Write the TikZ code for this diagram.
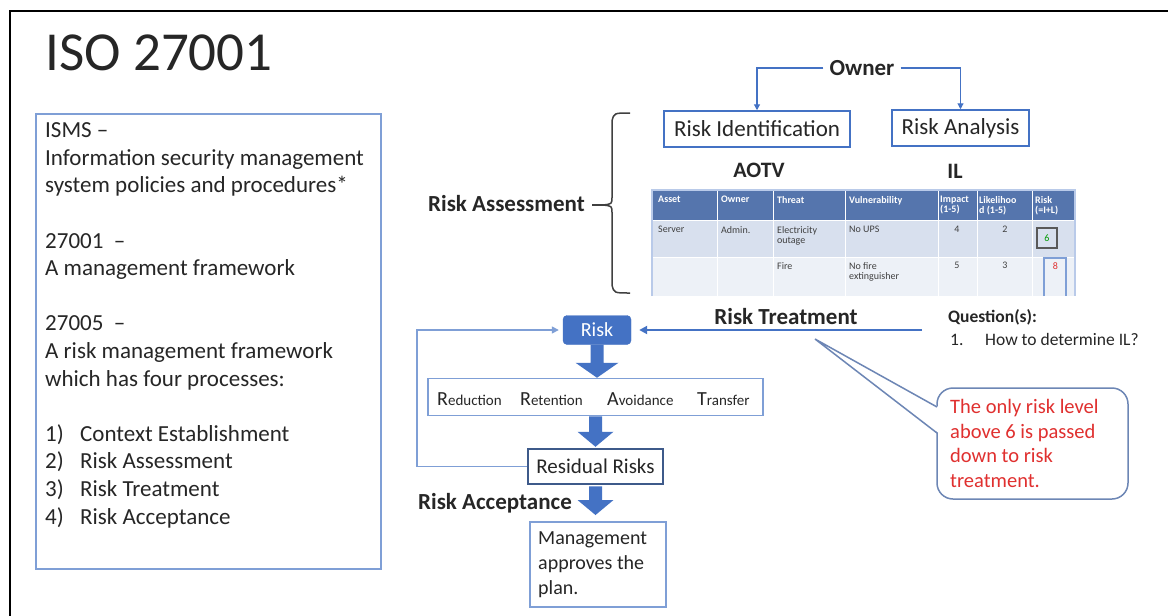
\documentclass[tikz,border=0pt]{standalone}
\usepackage{fontspec}
\setmainfont{Carlito}
\usetikzlibrary{arrows.meta,calc}

\definecolor{ink}{HTML}{262626}
\definecolor{mainblue}{HTML}{4472C4}
\definecolor{paleblue}{HTML}{7F9FD6}
\definecolor{bracegray}{HTML}{404040}
\definecolor{hdrblue}{HTML}{5575AD}
\definecolor{rowa}{HTML}{D8E0EE}
\definecolor{rowb}{HTML}{EDF1F7}
\definecolor{alertred}{HTML}{E0302F}
\definecolor{navy}{HTML}{3E5A8A}
\definecolor{calloutblue}{HTML}{6D86B5}
\definecolor{celltext}{HTML}{404040}

\newcommand{\fsz}[1]{\fontsize{#1}{#1}\selectfont}

% filled downward block arrow between two points
\newcommand{\blockdown}[3]{%
  \fill[mainblue] ($(#1)+(-6.5,0)$) -- ($(#1)+(6.5,0)$) -- ($(#2)+(6.5,-15)$)
    -- ($(#2)+(#3,-15)$) -- (#2) -- ($(#2)+(-#3,-15)$) -- ($(#2)+(-6.5,-15)$) -- cycle;}

\tikzset{
  txt/.style={inner sep=0, text=ink, font=\fsz{23}},
  boldtxt/.style={txt, font=\bfseries\fsz{23}},
  framebox/.style={draw=mainblue, line width=1.5, inner sep=0, text=ink, font=\fsz{23}},
  palebox/.style={draw=paleblue, line width=1.5, inner sep=0},
  thinarrow/.style={mainblue, line width=1.2, -{Triangle[length=6,width=6]}},
  hdr/.style={inner sep=0, text=white, font=\bfseries\fsz{10}, align=left, anchor=north west},
  cell/.style={inner sep=0, text=celltext, font=\fsz{10}, align=left, anchor=north west},
  smalltxt/.style={inner sep=0, text=ink, font=\fsz{17.5}, anchor=base west},
}

\begin{document}
\begin{tikzpicture}[x=1pt, y=-1pt]
\useasboundingbox (0,0) rectangle (1168,616);
\fill[white] (0,0) rectangle (1168,616);

% slide frame
\draw[black, line width=2.2] (10,620) -- (10,11) -- (1172,11);

% title
\node[inner sep=0, anchor=base west, text=ink, font=\fsz{55}] (title) at (45,70) {ISO 27001};

% left summary box
\node[palebox, minimum width=345, minimum height=455, anchor=north west] (summary) at (35,113) {};
\node[inner sep=0, anchor=north west, text=ink, align=left, font=\fontsize{23}{27.6}\selectfont] (summarytext) at (45,122.5) {%
ISMS –\\
Information security management\\
system policies and procedures*\\[27.6pt]
27001\ \ –\\
A management framework\\[27.6pt]
27005\ \ –\\
A risk management framework\\
which has four processes:\\[27.6pt]
\makebox[35pt][l]{1)}Context Establishment\\
\makebox[35pt][l]{2)}Risk Assessment\\
\makebox[35pt][l]{3)}Risk Treatment\\
\makebox[35pt][l]{4)}Risk Acceptance};

% owner and the two assessment steps
\node[boldtxt, inner xsep=6] (owner) at (862,68) {Owner};
\node[framebox, minimum width=186, minimum height=36] (ident) at (757,129) {Risk Identification};
\node[framebox, minimum width=137, minimum height=36] (analysis) at (960.5,128) {Risk Analysis};
\draw[thinarrow] (owner.west) -| (ident.north);
\draw[thinarrow] (owner.east) -| (analysis.north);
\node[txt, font=\bfseries\fsz{22}] (aotv) at (759,170) {AOTV};
\node[txt, font=\bfseries\fsz{22}] (il) at (955,171) {IL};

% risk assessment brace
\node[boldtxt, anchor=east] (assess) at (585,204) {Risk Assessment};
\coordinate (nib) at (603,205);
\draw[bracegray, line width=1.5] (630,113) .. controls (614,113) .. (612,121) -- (612,197)
  .. controls (612,204) .. (nib) .. controls (612,206) .. (612,213) -- (612,285)
  .. controls (614,293) .. (630,293);
\draw[bracegray, line width=1.5] ($(assess.east)+(7,1)$) -- (nib);

% risk register table
\fill[hdrblue] (653,191) rectangle (1074,220);
\fill[rowa] (653,220) rectangle (1074,257);
\fill[rowb] (653,257) rectangle (1074,296);
\foreach \x in {717,773,845,938,977,1032}
  \draw[white, line width=1] (\x,191) -- (\x,296);
\draw[white, line width=1] (653,220) -- (1074,220);
\draw[white, line width=1] (653,257) -- (1074,257);
\draw[paleblue!55, line width=1.5] (652,296) -- (652,190) -- (1075,190) -- (1075,296);

\node[hdr] (h1) at (658,196) {Asset};
\node[hdr] (h2) at (721,196) {Owner};
\node[hdr] (h3) at (777,196) {Threat};
\node[hdr] (h4) at (849,196) {Vulnerability};
\node[hdr] (h5) at (940,196) {Impact\\(1-5)};
\node[hdr] (h6) at (979,196) {Likelihoo\\d (1-5)};
\node[hdr] (h7) at (1035,196) {Risk\\(=I+L)};

\node[cell] (c11) at (658,226) {Server};
\node[cell] (c12) at (721,226) {Admin.};
\node[cell] (c13) at (777,226) {Electricity\\outage};
\node[cell] (c14) at (849,226) {No UPS};
\node[cell, anchor=north] (c15) at (957,226) {4};
\node[cell, anchor=north] (c16) at (1005,226) {2};
\node[draw=gray!70!black, line width=1.2, fill=rowa, minimum width=20, minimum height=20,
      inner sep=0, text=green!60!black, font=\fsz{10}] (r6) at (1047,238) {6};

\node[cell] (c23) at (777,262) {Fire};
\node[cell] (c24) at (849,262) {No fire\\extinguisher};
\node[cell, anchor=north] (c25) at (957,262) {5};
\node[cell, anchor=north] (c26) at (1005,262) {3};
\draw[paleblue, line width=1.2] (1044,296) -- (1044,258) -- (1066,258) -- (1066,296);
\node[cell, anchor=north, text=alertred] (r8) at (1055.5,262) {8};

% risk treatment flow
\node[fill=mainblue, draw=mainblue, rounded corners=4, minimum width=68, minimum height=29,
      inner sep=0, text=white, font=\fsz{20}] (risk) at (597,330) {Risk};
\node[boldtxt] (treat) at (786,317) {Risk Treatment};
\coordinate (treatstart) at (922,330);
\draw[mainblue, line width=2, -{Triangle[length=8,width=8]}, shorten >=8] (treatstart) -- (risk.east);

\node[palebox, minimum width=335, minimum height=37] (options) at (595.5,397) {};
\node[inner sep=0, anchor=base west, text=ink] (opt1) at (437,405) {\fsz{20}R\fsz{15}eduction};
\node[inner sep=0, anchor=base west, text=ink] (opt2) at (520,405) {\fsz{20}R\fsz{15}etention};
\node[inner sep=0, anchor=base west, text=ink] (opt3) at (607,405) {\fsz{20}A\fsz{15}voidance};
\node[inner sep=0, anchor=base west, text=ink] (opt4) at (697,405) {\fsz{20}T\fsz{15}ransfer};

\node[draw=navy, line width=1.5, minimum width=135, minimum height=35, inner sep=0,
      text=ink, font=\fsz{21}] (residual) at (595.5,466.5) {Residual Risks};

\coordinate (loopcorner) at (417,466.5);
\draw[paleblue, line width=1.5, -{Triangle[length=7,width=7]}, shorten >=4]
  (residual.west) -- (loopcorner) |- (risk.west);

\node[boldtxt] (accept) at (495,503) {Risk Acceptance};
\node[palebox, minimum width=136, minimum height=85, anchor=north west] (mgmt) at (529,521) {};
\node[inner sep=0, anchor=north west, align=left, text=ink, font=\fontsize{20}{25}\selectfont]
  (mgmttext) at (538,531) {Management\\approves the\\plan.};

\blockdown{risk.south}{risk.south |- options.north}{21.5}
\blockdown{options.south}{$(residual.north)+(0,-1.5)$}{18}
\blockdown{$(residual.south)+(0,1.5)$}{595.5,515}{18}

% open question
\node[inner sep=0, anchor=base west, text=ink, font=\bfseries\fsz{17.5}] (question) at (948,322) {Question(s):};
\node[smalltxt] (qnum) at (950,345) {1.};
\node[smalltxt] (qtext) at (985,345) {How to determine IL?};

% callout note
\coordinate (tip) at (815,339);
\draw[calloutblue, line width=1.5, fill=white, rounded corners=16] (937,388) rectangle (1128,499);
\fill[white] (938.5,407) -- (tip) -- (938.5,433) -- cycle;
\draw[calloutblue, line width=1.5] (937,407) -- (tip) -- (937,433);
\node[inner sep=0, anchor=north west, align=left, text=alertred, font=\fontsize{20.5}{24.4}\selectfont]
  (note) at (950,399.5) {The only risk level\\above 6 is passed\\down to risk\\treatment.};
\end{tikzpicture}
\end{document}
